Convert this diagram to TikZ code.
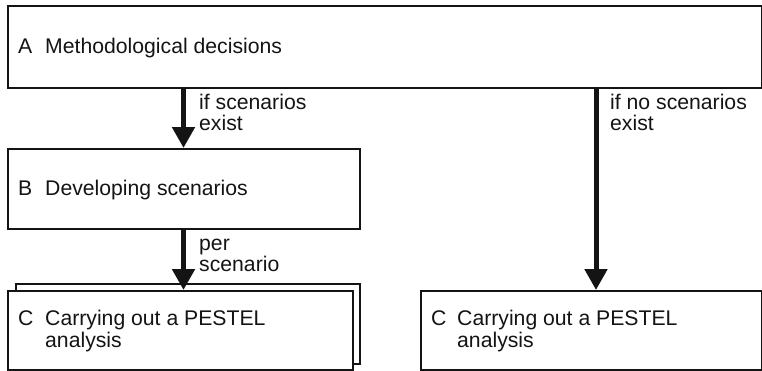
\documentclass[tikz,border=0pt]{standalone}
\usepackage{fontspec}
\setmainfont{Liberation Sans}
\usetikzlibrary{arrows.meta}
\begin{document}
\begin{tikzpicture}[x=1pt,y=-1pt,
  box/.style={draw=black!92, line width=1.6pt, fill=white, rectangle, inner sep=0pt, anchor=north west},
  txt/.style={anchor=base west, inner sep=0pt, font=\fontsize{21.2}{21.2}\selectfont, text=black!92},
  flow/.style={draw=black!92, line width=5pt, -{Triangle[width=22pt,length=21pt]}}]
\useasboundingbox (0,0) rectangle (762,370);

% boxes
\node[box, minimum width=754pt, minimum height=82pt] (A) at (7,5) {};
\node[box, minimum width=352pt, minimum height=80pt] (B) at (7,148) {};
\node[box, minimum width=344pt, minimum height=80pt] (Cback) at (15,283) {};
\node[box, minimum width=345pt, minimum height=79pt] (Cl) at (7,290) {};
\node[box, minimum width=341pt, minimum height=79pt] (Cr) at (420,290) {};

% box texts
\node[txt] (Atag) at (18,53) {A};
\node[txt] (Atext) at (45,53) {Methodological decisions};
\node[txt] (Btag) at (18,195) {B};
\node[txt] (Btext) at (45,195) {Developing scenarios};
\node[txt] (Cltag) at (18,325) {C};
\node[txt] (Cltext1) at (45,325) {Carrying out a PESTEL};
\node[txt] (Cltext2) at (45,347) {analysis};
\node[txt] (Crtag) at (431,325) {C};
\node[txt] (Crtext1) at (457,325) {Carrying out a PESTEL};
\node[txt] (Crtext2) at (457,347) {analysis};

% connectors
\coordinate (lx) at (183.5,0);
\coordinate (rx) at (596,0);
\draw[flow] (A.south -| lx) -- (B.north -| lx);
\draw[flow] (B.south -| lx) -- (Cl.north -| lx);
\draw[flow] (A.south -| rx) -- (Cr.north -| rx);

% connector labels
\node[txt] (l1a) at (199,109) {if scenarios};
\node[txt] (l1b) at (199,130) {exist};
\node[txt] (l2a) at (610,109) {if no scenarios};
\node[txt] (l2b) at (610,130) {exist};
\node[txt] (l3a) at (199,250) {per};
\node[txt] (l3b) at (199,271) {scenario};
\end{tikzpicture}
\end{document}
